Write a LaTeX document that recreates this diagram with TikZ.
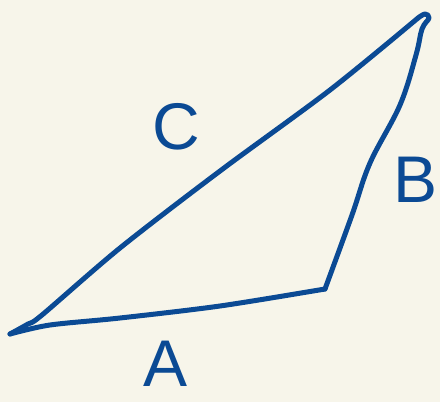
\documentclass[tikz,border=0pt]{standalone}
\usepackage{fontspec}
\setmainfont{Liberation Sans}
\definecolor{bg}{HTML}{F7F5EA}
\definecolor{ink}{HTML}{0B4A94}
\begin{document}
\begin{tikzpicture}[x=1pt,y=-1pt,
  edge/.style={draw=ink,line width=5pt,line cap=round,line join=round},
  lbl/.style={text=ink,font=\fontsize{66}{66}\selectfont,inner sep=0pt}]
\fill[bg] (0,0) rectangle (440,402);
\useasboundingbox (0,0) rectangle (440,402);
\coordinate (L) at (10,334);
\coordinate (R) at (325,289);
\coordinate (T) at (425,15);
% side C
\draw[edge] plot[smooth,tension=0.5] coordinates {(L) (28,324) (42,315) (120,248) (220,171) (330,90) (418,18)};
% side B
\draw[edge] plot[smooth,tension=0.6] coordinates {(418,18) (425,14) (429,18) (422,29) (416,55) (400,105) (370,163) (352,215) (R)};
% side A
\draw[edge] plot[smooth,tension=0.5] coordinates {(L) (50,325) (120,318) (220,306) (R)};
\node[lbl] (c) at (176,127) {C};
\node[lbl] (b) at (416,180) {B};
\node[lbl] (a) at (166,364) {A};
\end{tikzpicture}
\end{document}
